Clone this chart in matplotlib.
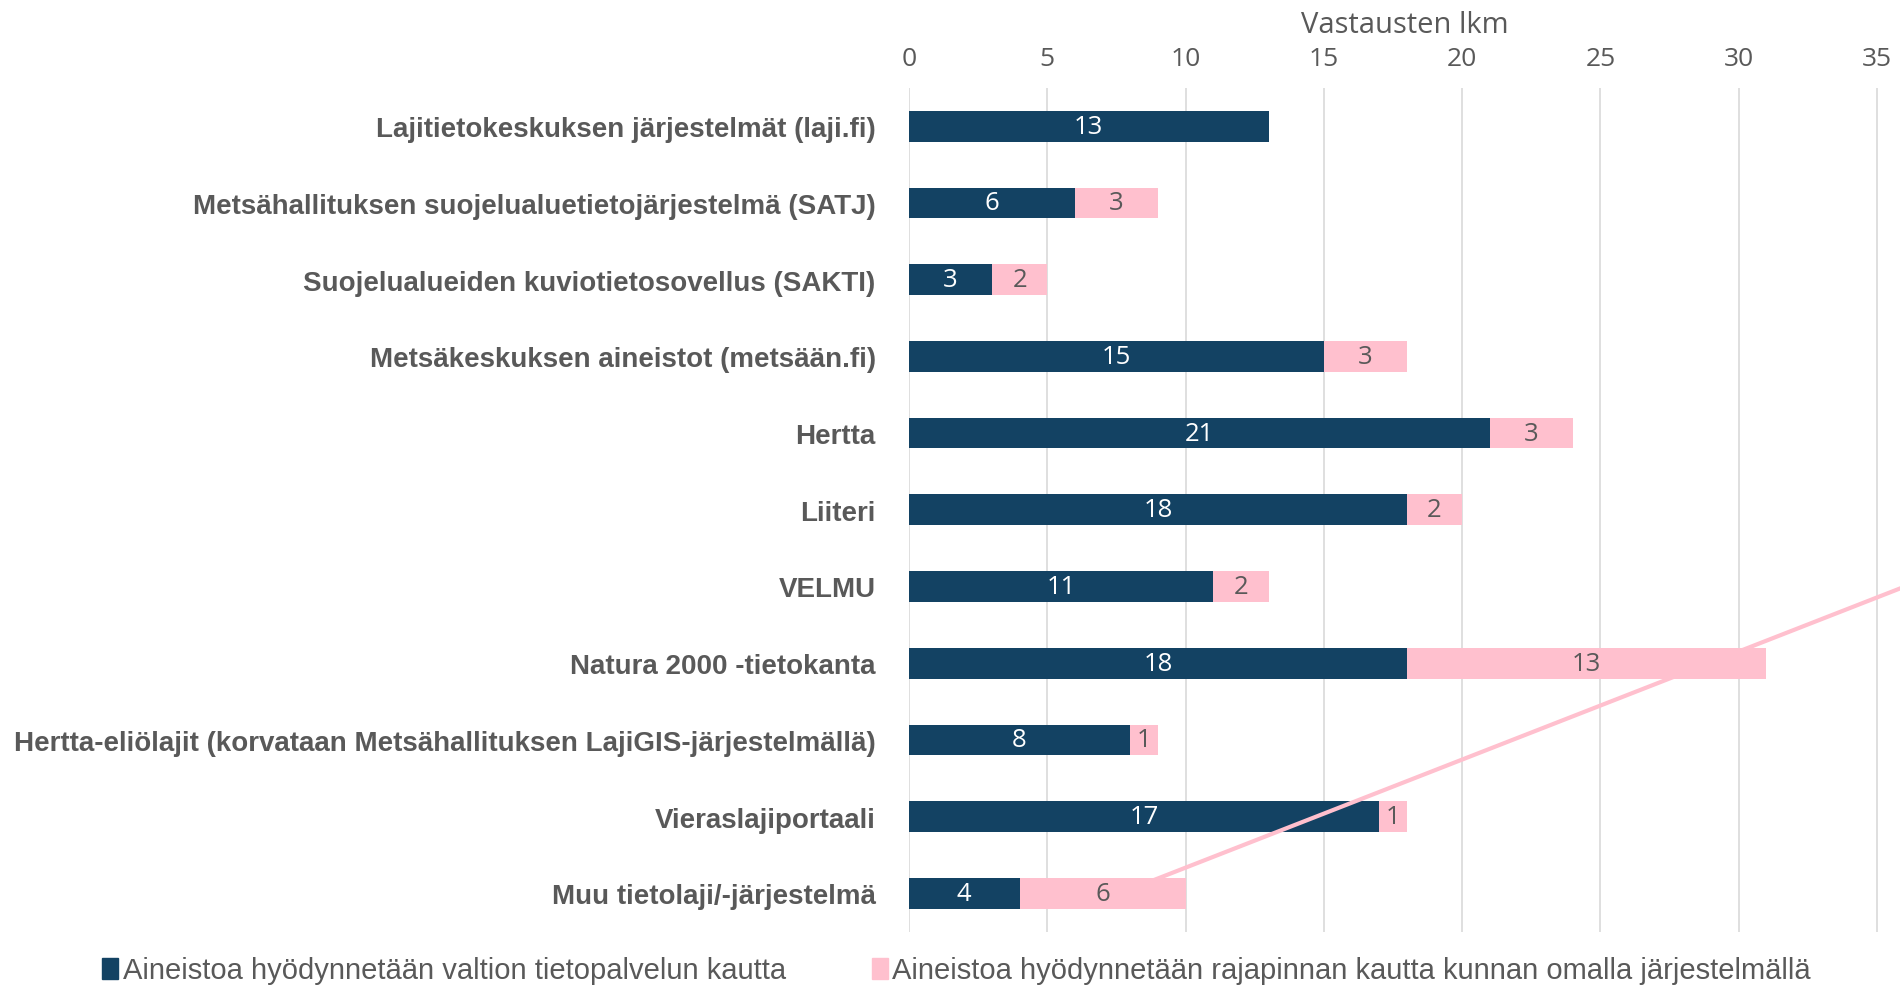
import numpy as np
import matplotlib.pyplot as plt
from matplotlib.patches import Patch

categories = [
    "Lajitietokeskuksen järjestelmät (laji.fi)",
    "Metsähallituksen suojelualuetietojärjestelmä (SATJ)",
    "Suojelualueiden kuviotietosovellus (SAKTI)",
    "Metsäkeskuksen aineistot (metsään.fi)",
    "Hertta",
    "Liiteri",
    "VELMU",
    "Natura 2000 -tietokanta",
    "Hertta-eliölajit (korvataan Metsähallituksen LajiGIS-järjestelmällä)",
    "Vieraslajiportaali",
    "Muu tietolaji/-järjestelmä",
]
valtio = [13, 6, 3, 15, 21, 18, 11, 18, 8, 17, 4]
rajapinta = [0, 3, 2, 3, 3, 2, 2, 13, 1, 1, 6]
xticks = [0, 5, 10, 15, 20, 25, 30, 35]
series_names = ["Aineistoa hyödynnetään valtion tietopalvelun kautta",
                "Aineistoa hyödynnetään rajapinnan kautta kunnan omalla järjestelmällä"]

navy = "#134263"
pink = "#FFC0CE"
grey = "#595959"
num_font = "Open Sans"

fig = plt.figure(figsize=(19, 9.87), dpi=100)
ax = fig.add_axes([0.4784, 0.055, 0.5216, 0.855])

y = np.arange(len(categories))
ax.barh(y, valtio, height=0.4, color=navy, zorder=3)
ax.barh(y, rajapinta, left=valtio, height=0.4, color=pink, zorder=3)

for i in range(len(categories)):
    if valtio[i] > 0:
        ax.text(valtio[i] / 2, i, str(valtio[i]), ha="center", va="center",
                color="white", fontsize=18.5, family=num_font, zorder=4)
    if rajapinta[i] > 0:
        ax.text(valtio[i] + rajapinta[i] / 2, i, str(rajapinta[i]), ha="center",
                va="center", color=grey, fontsize=18.5, family=num_font, zorder=4)

# stray pink line present in the original
ax.plot([8.9, 38.0], [9.82, 5.72], color=pink, lw=3, zorder=5, clip_on=False)

ax.set_xlim(0, 35.83)
ax.set_ylim(10.5, -0.5)
ax.set_yticks(y)
ax.set_yticklabels(categories, fontsize=20, fontweight="bold",
                   family="Liberation Sans", color=grey)
ax.set_xticks(xticks)
ax.xaxis.tick_top()
ax.xaxis.set_label_position("top")
ax.tick_params(axis="x", length=0, labelsize=19, labelcolor=grey, pad=12)
ax.tick_params(axis="y", length=0, pad=24)
for lab in ax.get_xticklabels():
    lab.set_family(num_font)
ax.set_xlabel("Vastausten lkm", fontsize=21, color=grey, family=num_font, labelpad=10)
ax.grid(axis="x", color="#D9D9D9", lw=1.2, zorder=0)
for s in ax.spines.values():
    s.set_visible(False)

handles = [Patch(color=navy), Patch(color=pink)]
fig.legend(handles, series_names, loc="lower left", bbox_to_anchor=(0.04, -0.025),
           ncol=2, frameon=False, handlelength=0.55, handleheight=0.75,
           handletextpad=0.15, columnspacing=2.95,
           prop={"family": "Liberation Sans", "size": 21}, labelcolor=grey)

fig.savefig("out.png", dpi=100)
